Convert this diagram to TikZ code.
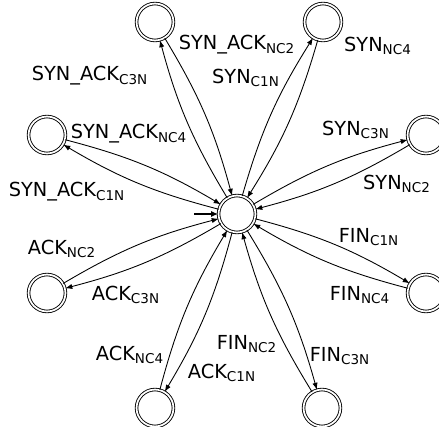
\documentclass[tikz,border=0pt]{standalone}
\usepackage{fontspec}
\setmainfont{DejaVu Sans}
\usetikzlibrary{arrows.meta}
\newcommand{\msg}[2]{#1\textsubscript{#2}}

\begin{document}
\begin{tikzpicture}[x=0.02cm,y=0.02cm,line width=0.5pt,
    state/.style={circle,draw,double,double distance=1pt,minimum size=21pt,inner sep=0pt},
    trans/.style={-{Latex[length=4pt,width=3pt]},bend left=8},
    init/.style={-{Latex[length=4pt,width=3.5pt]},line width=0.9pt},
    lbl/.style={font=\fontsize{11}{13}\selectfont,inner sep=1pt}]
  \useasboundingbox (-237,-212) rectangle (202,214);
  % states
  \node[state] (s0) at (0,0) {};
  \node[state] (s1) at (86,192) {};
  \node[state] (s2) at (189,79) {};
  \node[state] (s3) at (189,-79) {};
  \node[state] (s4) at (85,-194) {};
  \node[state] (s5) at (-82,-194) {};
  \node[state] (s6) at (-190,-79) {};
  \node[state] (s7) at (-190,79) {};
  \node[state] (s8) at (-82,192) {};
  \coordinate (start) at (-43,0);
  \draw[init] (start) -- (s0);
  % transitions
  \foreach \i in {1,...,8}{
    \draw[trans] (s0) to (s\i);
    \draw[trans] (s\i) to (s0);
  }
  % labels
  \node[lbl] (l01) at (9,136) {\msg{SYN}{C1N}};
  \node[lbl] (l10) at (141,168) {\msg{SYN}{NC4}};
  \node[lbl] (l02) at (119,84) {\msg{SYN}{C3N}};
  \node[lbl] (l20) at (160,30) {\msg{SYN}{NC2}};
  \node[lbl] (l03) at (132,-23) {\msg{FIN}{C1N}};
  \node[lbl] (l30) at (123,-81) {\msg{FIN}{NC4}};
  \node[lbl] (l04) at (103,-142) {\msg{FIN}{C3N}};
  \node[lbl] (l40) at (10,-130) {\msg{FIN}{NC2}};
  \node[lbl] (l05) at (-15,-159) {\msg{ACK}{C1N}};
  \node[lbl] (l50) at (-107,-141) {\msg{ACK}{NC4}};
  \node[lbl] (l06) at (-111,-81) {\msg{ACK}{C3N}};
  \node[lbl] (l60) at (-175,-35) {\msg{ACK}{NC2}};
  \node[lbl] (l07) at (-170,22) {\msg{SYN\_ACK}{C1N}};
  \node[lbl] (l70) at (-108,80) {\msg{SYN\_ACK}{NC4}};
  \node[lbl] (l08) at (-147,138) {\msg{SYN\_ACK}{C3N}};
  \node[lbl] (l80) at (0,169) {\msg{SYN\_ACK}{NC2}};
\end{tikzpicture}
\end{document}
